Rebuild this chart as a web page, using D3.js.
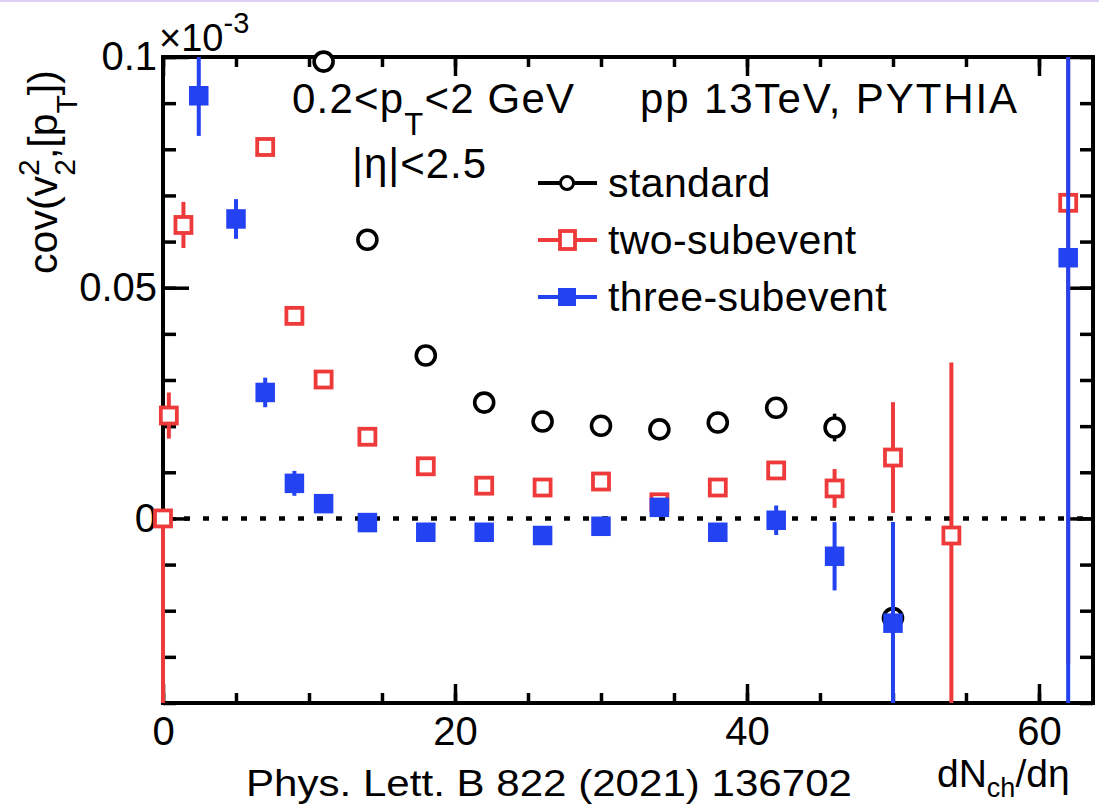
<!DOCTYPE html>
<html><head><meta charset="utf-8">
<script src="https://cdn.jsdelivr.net/npm/d3@7"></script>
<style>
  html, body { margin: 0; background: #fff; }
  svg { display: block; }
  text { font-family: "Liberation Sans", Arial, Helvetica, sans-serif; fill: #000; }
</style>
</head><body>
<svg id="chart" width="1099" height="804"></svg>
<script>
// ---- data: cov(v2^2, [pT]) in units of 1e-3 vs dNch/deta ----
const xDomain = [0, 63.7];
const yDomain = [-0.04, 0.1];
const xMajorTicks = [0, 20, 40, 60];
const xMinorTicks = d3.range(0, 61, 5);
const yMajorTicks = [0, 0.05, 0.1];
const yTickLabels = ["0", "0.05", "0.1"];
const yMinorTicks = d3.range(-4, 11).map(i => i / 100);

// standard method
const stdX   = [11, 14, 18, 22, 26, 30, 34, 38, 42, 46, 50];
const stdY   = [0.0990, 0.0604, 0.0353, 0.0251, 0.0210, 0.0201, 0.0193, 0.0208, 0.0240, 0.0197, -0.0216];
const stdErr = [0.001, 0.001, 0.001, 0.001, 0.001, 0.001, 0.001, 0.001, 0.001, 0.003, 0.002];

// two-subevent method
const twoX     = [0, 0.4, 1.4, 7, 9, 11, 14, 18, 22, 26, 30, 34, 38, 42, 46, 50, 54, 62];
const twoY     = [0, 0.0223, 0.0636, 0.0805, 0.0439, 0.0301, 0.0177, 0.0113, 0.0071, 0.0067, 0.0080, 0.0035, 0.0067, 0.0104, 0.0065, 0.0132, -0.0037, 0.0684];
const twoErrLo = [0.06, 0.005, 0.005, 0.001, 0.0015, 0.001, 0.001, 0.001, 0.001, 0.001, 0.001, 0.001, 0.001, 0.001, 0.0042, 0.012, 0.0375, 0.1];
const twoErrHi = [0, 0.005, 0.005, 0.001, 0.0015, 0.001, 0.001, 0.001, 0.001, 0.001, 0.001, 0.001, 0.001, 0.001, 0.0042, 0.012, 0.0375, 0.1];

// three-subevent method
const threeX   = [2.45, 5, 7, 9, 11, 14, 18, 22, 26, 30, 34, 38, 42, 46, 50, 62];
const threeY   = [0.0916, 0.0649, 0.0273, 0.0076, 0.0032, -0.0009, -0.0030, -0.0030, -0.0037, -0.0017, 0.0024, -0.0030, -0.0004, -0.0082, -0.0227, 0.0565];
const threeErr = [0.0087, 0.0043, 0.0032, 0.0027, 0.0020, 0.001, 0.001, 0.001, 0.0015, 0.001, 0.001, 0.001, 0.0032, 0.0074, 0.0219, 0.2];

const legendLabels = ["standard", "two-subevent", "three-subevent"];
const RED = "#ee3a3a", BLUE = "#2342f2";

// ---- layout ----
const svg = d3.select("#chart");
const L = 163, R = 1093, T = 57, B = 703;
const x = d3.scaleLinear().domain(xDomain).range([L, R]);
const y = d3.scaleLinear().domain(yDomain).range([B, T]);

// thin slide border line at the very top
svg.append("rect").attr("x", 0).attr("y", 0).attr("width", 1099).attr("height", 2).attr("fill", "#ddd0f4");

// error bars are clipped vertically at the frame only
svg.append("defs").append("clipPath").attr("id", "plotclip")
  .append("rect").attr("x", L - 6).attr("y", T).attr("width", R - L + 12).attr("height", B - T);

// zero reference line (dotted)
svg.append("line")
  .attr("x1", x(0)).attr("x2", R).attr("y1", y(0)).attr("y2", y(0))
  .attr("stroke", "#000").attr("stroke-width", 4.5).attr("stroke-dasharray", "6,13").attr("stroke-dashoffset", -2);

// ---- axes ----
function styleAxis(g) {
  g.select(".domain").remove();
  g.selectAll(".tick line").attr("stroke", "#000").attr("stroke-width", 3.5);
  g.selectAll("text").attr("font-size", 40).attr("font-family", "Liberation Sans, Arial, sans-serif").attr("fill", "#000");
}
svg.append("g").attr("transform", `translate(0,${B})`)
  .call(d3.axisBottom(x).tickValues(xMinorTicks).tickSize(-10).tickFormat("")).call(styleAxis);
svg.append("g").attr("transform", `translate(0,${B})`)
  .call(d3.axisBottom(x).tickValues(xMajorTicks).tickSize(-19).tickPadding(14).tickFormat(d3.format("d"))).call(styleAxis);
svg.append("g").attr("transform", `translate(0,${T})`)
  .call(d3.axisTop(x).tickValues(xMinorTicks).tickSize(-10).tickFormat("")).call(styleAxis);
svg.append("g").attr("transform", `translate(0,${T})`)
  .call(d3.axisTop(x).tickValues(xMajorTicks).tickSize(-19).tickFormat("")).call(styleAxis);

svg.append("g").attr("transform", `translate(${L},0)`)
  .call(d3.axisLeft(y).tickValues(yMinorTicks).tickSize(-13).tickFormat("")).call(styleAxis);
svg.append("g").attr("transform", `translate(${L},0)`)
  .call(d3.axisLeft(y).tickValues(yMajorTicks).tickSize(-26).tickPadding(6)
    .tickFormat((d, i) => yTickLabels[i])).call(styleAxis);
svg.append("g").attr("transform", `translate(${R},0)`)
  .call(d3.axisRight(y).tickValues(yMinorTicks).tickSize(-13).tickFormat("")).call(styleAxis);
svg.append("g").attr("transform", `translate(${R},0)`)
  .call(d3.axisRight(y).tickValues(yMajorTicks).tickSize(-26).tickFormat("")).call(styleAxis);

// frame
svg.append("rect").attr("x", L).attr("y", T).attr("width", R - L).attr("height", B - T)
  .attr("fill", "none").attr("stroke", "#000").attr("stroke-width", 4);

// ---- series ----
function drawSeries(xs, ys, lo, hi, color, marker, lw) {
  const g = svg.append("g");
  const pts = xs.map((d, i) => ({ x: d, y: ys[i], lo: lo[i], hi: hi[i] }));
  g.append("g").attr("clip-path", "url(#plotclip)")
    .selectAll("line").data(pts).join("line")
    .attr("x1", d => x(d.x)).attr("x2", d => x(d.x))
    .attr("y1", d => y(d.y + d.hi)).attr("y2", d => y(d.y - d.lo))
    .attr("stroke", color).attr("stroke-width", lw);
  if (marker === "circle") {
    g.selectAll("circle").data(pts).join("circle")
      .attr("cx", d => x(d.x)).attr("cy", d => y(d.y)).attr("r", 9.5)
      .attr("fill", "#fff").attr("stroke", color).attr("stroke-width", 3.6);
  } else if (marker === "open") {
    g.selectAll("rect").data(pts).join("rect")
      .attr("x", d => x(d.x) - 8).attr("y", d => y(d.y) - 8).attr("width", 16).attr("height", 16)
      .attr("fill", "#fff").attr("stroke", color).attr("stroke-width", 3.8);
  } else {
    g.selectAll("rect").data(pts).join("rect")
      .attr("x", d => x(d.x) - 9.75).attr("y", d => y(d.y) - 9.75).attr("width", 19.5).attr("height", 19.5)
      .attr("fill", color);
  }
}
drawSeries(stdX, stdY, stdErr, stdErr, "#000", "circle", 3.5);
drawSeries(twoX, twoY, twoErrLo, twoErrHi, RED, "open", 4);
drawSeries(threeX, threeY, threeErr, threeErr, BLUE, "filled", 4);

// ---- legend ----
const legend = svg.append("g");
const rows = [
  { label: legendLabels[0], color: "#000", marker: "circle" },
  { label: legendLabels[1], color: RED, marker: "open" },
  { label: legendLabels[2], color: BLUE, marker: "filled" }
];
rows.forEach((r, i) => {
  const cy = 183 + i * 57;
  legend.append("line").attr("x1", 538).attr("x2", 597).attr("y1", cy).attr("y2", cy)
    .attr("stroke", r.color).attr("stroke-width", 4);
  if (r.marker === "circle") {
    legend.append("circle").attr("cx", 567).attr("cy", cy).attr("r", 6.5)
      .attr("fill", "#fff").attr("stroke", r.color).attr("stroke-width", 3);
  } else if (r.marker === "open") {
    legend.append("rect").attr("x", 560).attr("y", cy - 9).attr("width", 15).attr("height", 18)
      .attr("fill", "#fff").attr("stroke", r.color).attr("stroke-width", 3.8);
  } else {
    legend.append("rect").attr("x", 558).attr("y", cy - 9).attr("width", 18).attr("height", 18)
      .attr("fill", r.color);
  }
  legend.append("text").attr("x", 608).attr("y", cy + 14).attr("font-size", 41)
    .attr("letter-spacing", 0.4).text(r.label);
});

// ---- annotations ----
const t1 = svg.append("text").attr("x", 292).attr("y", 113).attr("font-size", 42).attr("letter-spacing", 1.2);
t1.append("tspan").text("0.2<p");
t1.append("tspan").attr("font-size", 31).attr("dy", 22).text("T");
t1.append("tspan").attr("dy", -22).text("<2 GeV");

svg.append("text").attr("x", 352).attr("y", 178).attr("font-size", 42).attr("letter-spacing", 1).text("|η|<2.5");
svg.append("text").attr("x", 640).attr("y", 113).attr("font-size", 42)
  .attr("textLength", 377).attr("lengthAdjust", "spacing").text("pp 13TeV, PYTHIA");

// exponent above the y axis
const ex = svg.append("text").attr("x", 159).attr("y", 51).attr("font-size", 38);
ex.append("tspan").text("×10");
ex.append("tspan").attr("font-size", 29).attr("dy", -18).text("-3");

// y-axis title
const yt = svg.append("text").attr("transform", "translate(57,172) rotate(-90)")
  .attr("text-anchor", "middle").attr("font-size", 41);
yt.append("tspan").text("cov(v");
yt.append("tspan").attr("font-size", 30).attr("dy", -18).text("2");
yt.append("tspan").attr("font-size", 30).attr("dx", -16.5).attr("dy", 36).text("2");
yt.append("tspan").attr("dy", -18).text(",[p");
yt.append("tspan").attr("font-size", 30).attr("dy", 20).text("T");
yt.append("tspan").attr("dy", -20).text("])");

// x-axis title
const xt = svg.append("text").attr("x", 937).attr("y", 787).attr("font-size", 39)
  .attr("font-family", "DejaVu Sans Condensed, DejaVu Sans, sans-serif");
xt.append("tspan").text("dN");
xt.append("tspan").attr("font-size", 27).attr("dy", 10).text("ch");
xt.append("tspan").attr("dy", -10).text("/dη");

// reference
svg.append("text").attr("x", 246).attr("y", 796).attr("font-size", 36)
  .attr("font-family", "DejaVu Sans Condensed, DejaVu Sans, sans-serif")
  .attr("textLength", 606).attr("lengthAdjust", "spacingAndGlyphs")
  .text("Phys. Lett. B 822 (2021) 136702");
</script>
</body></html>
